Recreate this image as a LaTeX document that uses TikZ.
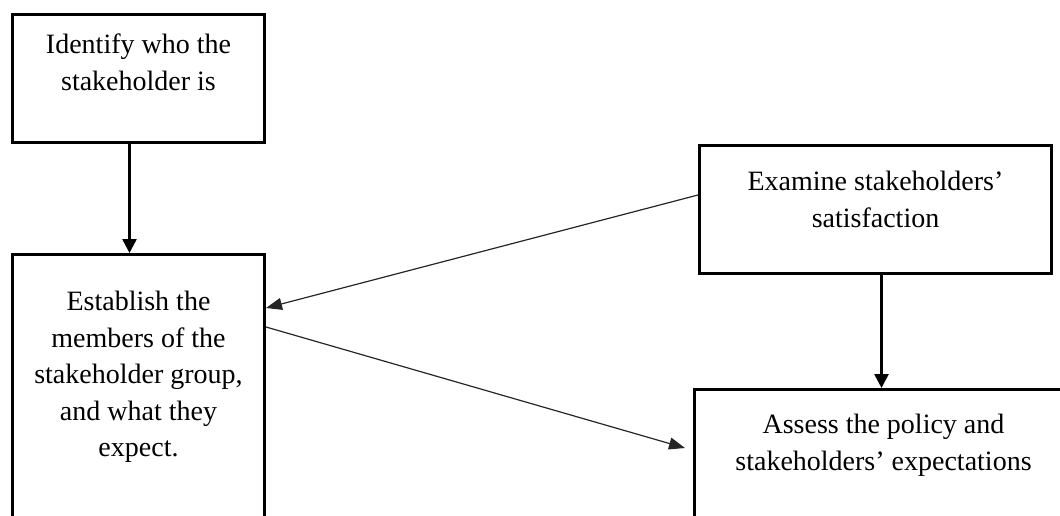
\documentclass[tikz,border=0pt]{standalone}
\usepackage{fontspec}
\setmainfont{Liberation Serif}
\usetikzlibrary{arrows.meta}

\begin{document}
\begin{tikzpicture}[
  x=1pt, y=-1pt,
  >={Triangle[length=14pt,width=14pt]},
  block/.style={
      rectangle, draw=black, line width=3pt,
      anchor=north west, inner sep=0pt
  },
  blocktext/.style={anchor=north, align=center, inner sep=0pt,
                    font=\fontsize{28}{36.5}\selectfont},
  arr/.style={->, draw=black, line width=2.6pt},
  thinarr/.style={-{Triangle[length=16pt,width=12pt]}, draw=black!85, line width=1.2pt}
]
\useasboundingbox (0,0) rectangle (1060,516);
\clip (0,0) rectangle (1060,516);

% left column
\node[block, minimum width=252pt, minimum height=128pt,
      label={[blocktext, name=identifytxt, yshift=-21pt]north:{Identify who the\\stakeholder is}}]
      (identify) at (11,13) {};
\node[block, minimum width=252pt, minimum height=300pt,
      label={[blocktext, name=establishtxt, yshift=-38pt]north:{Establish the\\members of the\\stakeholder group,\\and what they\\expect.}}]
      (establish) at (11,253) {};

% right column
\node[block, minimum width=352pt, minimum height=128pt,
      label={[blocktext, name=examinetxt, yshift=-27pt]north:{Examine stakeholders’\\satisfaction}}]
      (examine) at (698,144) {};
\node[block, minimum width=378pt, minimum height=200pt,
      label={[blocktext, name=assesstxt, yshift=-26pt]north:{Assess the policy and\\stakeholders’ expectations}}]
      (assess) at (693,388) {};

% vertical arrows
\draw[arr] ([xshift=-9pt]identify.south) -- ([xshift=-9pt]identify.south |- establish.north);
\draw[arr] ([xshift=6pt]examine.south) -- ([xshift=6pt]examine.south |- assess.north);

% slanted arrows
\draw[thinarr] ([yshift=-51pt]examine.north west) -- ([yshift=-55pt]establish.north east);
\draw[thinarr] ([yshift=-74pt]establish.north east) -- ([xshift=-8pt,yshift=-60pt]assess.north west);

\end{tikzpicture}
\end{document}
